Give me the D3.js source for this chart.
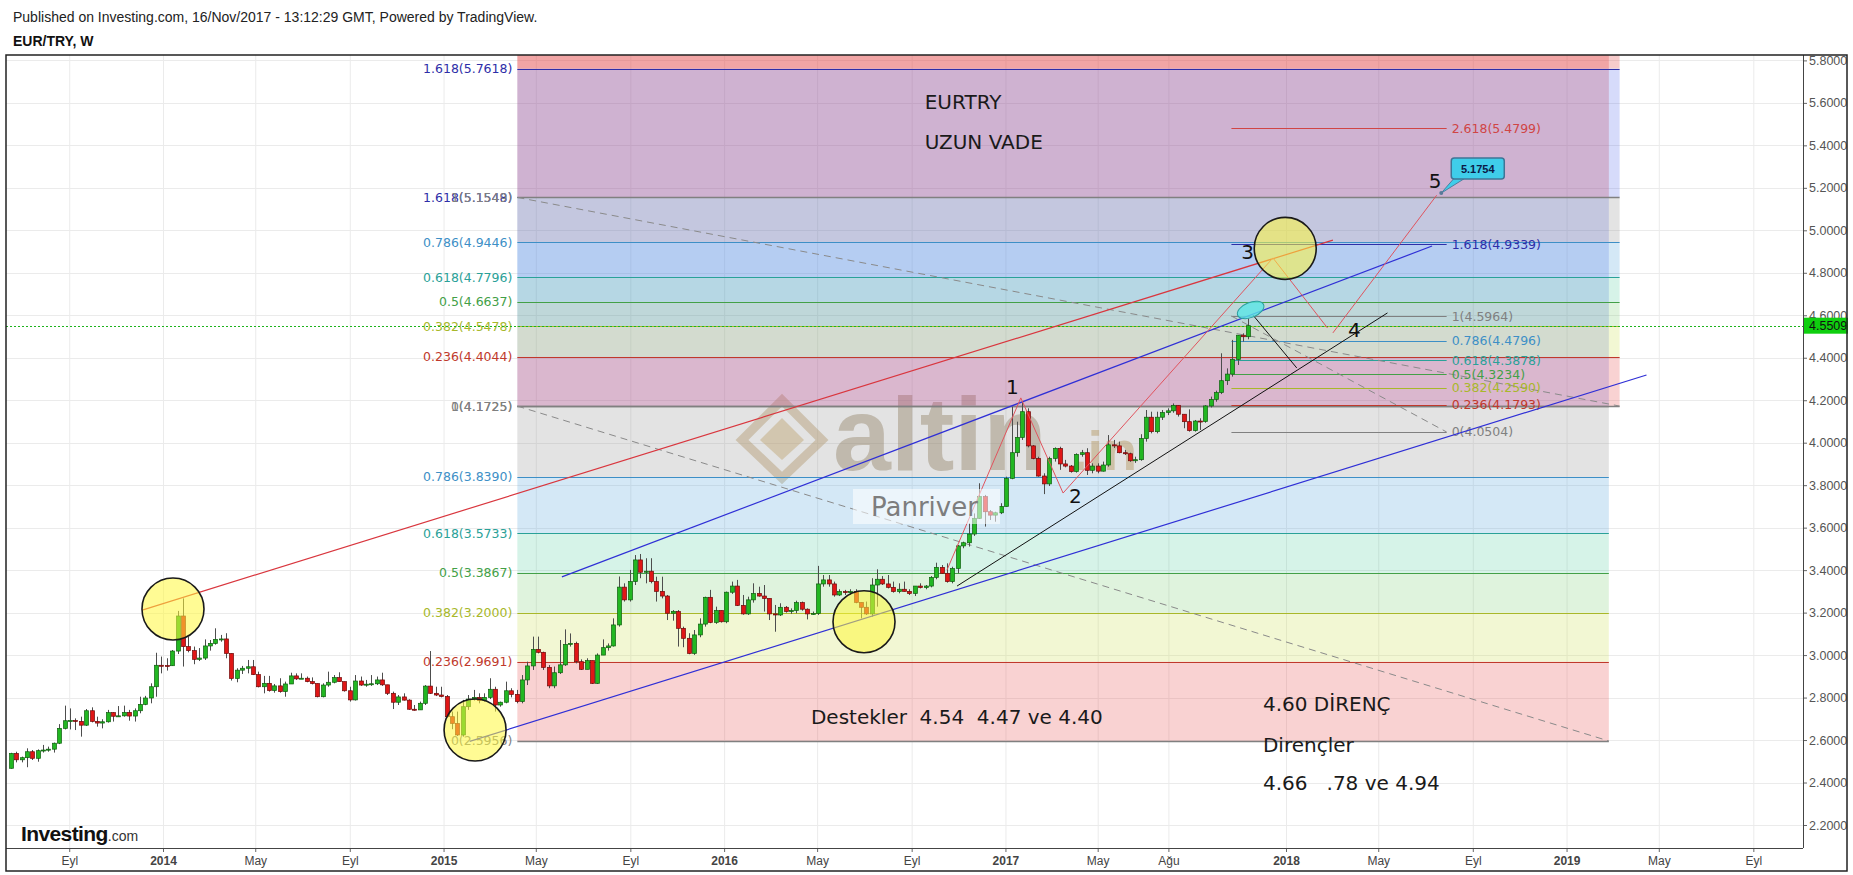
<!DOCTYPE html>
<html><head><meta charset="utf-8">
<script src="https://cdn.jsdelivr.net/npm/d3@7"></script>
<style>body{margin:0;background:#fff;}svg{display:block;}</style>
</head><body>
<svg id="c" width="1853" height="875"></svg>
<script>
// ---------------- DATA ----------------
const lastWeek = "2017-11-13";
const firstOpen = 2.467;
const closes = [2.537,2.507,2.517,2.545,2.514,2.550,2.553,2.557,2.585,2.655,
2.691,2.692,2.688,2.670,2.738,2.688,2.680,2.686,2.729,2.712,
2.714,2.730,2.713,2.738,2.768,2.798,2.851,2.952,2.951,2.950,
3.019,3.184,3.040,3.021,2.980,2.986,3.043,3.055,3.074,3.076,
3.008,2.890,2.929,2.938,2.945,2.908,2.851,2.867,2.833,2.855,
2.828,2.864,2.902,2.888,2.891,2.875,2.866,2.804,2.859,2.872,
2.894,2.875,2.832,2.789,2.878,2.859,2.863,2.865,2.883,2.860,
2.820,2.778,2.803,2.788,2.745,2.742,2.773,2.854,2.820,2.812,
2.805,2.710,2.678,2.624,2.757,2.793,2.801,2.786,2.801,2.839,
2.765,2.778,2.832,2.815,2.781,2.883,2.949,3.027,3.013,2.942,
2.855,2.917,2.954,3.050,3.055,2.969,2.933,2.974,2.867,3.000,
3.035,3.043,3.142,3.320,3.260,3.346,3.448,3.390,3.395,3.346,
3.300,3.278,3.197,3.205,3.126,3.079,3.008,3.095,3.146,3.272,
3.154,3.210,3.157,3.296,3.325,3.234,3.194,3.260,3.290,3.278,
3.267,3.194,3.189,3.225,3.205,3.210,3.247,3.216,3.194,3.196,
3.335,3.354,3.335,3.283,3.299,3.294,3.299,3.248,3.225,3.194,
3.330,3.357,3.335,3.319,3.299,3.310,3.300,3.290,3.325,3.318,
3.325,3.366,3.413,3.385,3.346,3.408,3.514,3.529,3.570,3.644,
3.746,3.675,3.659,3.670,3.700,3.832,3.953,4.025,4.146,3.985,
3.926,3.843,3.806,3.926,3.973,3.900,3.890,3.864,3.945,3.953,
3.870,3.890,3.866,3.895,3.990,3.985,3.953,3.948,3.915,3.920,
4.020,4.120,4.052,4.120,4.142,4.150,4.176,4.134,4.099,4.057,
4.102,4.100,4.173,4.204,4.236,4.292,4.323,4.392,4.506,4.499,
4.551];
const highs = [2.540,2.545,2.522,2.561,2.553,2.556,2.577,2.569,2.588,2.675,
2.762,2.749,2.702,2.710,2.746,2.754,2.710,2.698,2.742,2.731,
2.760,2.762,2.742,2.749,2.804,2.808,2.867,3.011,2.993,2.985,
3.024,3.208,3.267,3.087,3.040,3.033,3.074,3.071,3.126,3.095,
3.103,3.008,2.938,2.949,2.977,2.977,2.922,2.902,2.902,2.864,
2.891,2.875,2.917,2.914,2.914,2.899,2.895,2.864,2.867,2.922,
2.906,2.919,2.870,2.851,2.906,2.899,2.883,2.906,2.899,2.917,
2.859,2.828,2.812,2.820,2.792,2.765,2.781,2.859,3.019,2.851,
2.851,2.812,2.734,2.734,2.789,2.812,2.836,2.820,2.820,2.891,
2.851,2.781,2.875,2.844,2.836,2.906,2.969,3.087,3.087,3.016,
2.953,2.946,3.071,3.121,3.102,3.063,2.980,2.985,2.961,3.008,
3.074,3.055,3.173,3.370,3.338,3.401,3.471,3.476,3.456,3.456,
3.369,3.369,3.283,3.212,3.212,3.134,3.103,3.118,3.173,3.275,
3.307,3.228,3.205,3.299,3.346,3.354,3.283,3.275,3.338,3.322,
3.330,3.267,3.236,3.244,3.231,3.220,3.256,3.252,3.220,3.205,
3.420,3.377,3.377,3.346,3.310,3.307,3.310,3.310,3.244,3.252,
3.362,3.404,3.372,3.377,3.346,3.338,3.346,3.310,3.325,3.338,
3.330,3.372,3.435,3.424,3.432,3.416,3.518,3.534,3.620,3.667,
3.809,3.754,3.683,3.675,3.715,3.840,4.170,4.099,4.193,4.162,
3.989,3.934,3.856,3.934,3.978,3.981,3.919,3.895,3.950,3.966,
3.974,3.903,3.903,3.911,4.036,4.013,4.005,3.966,3.953,3.934,
4.040,4.154,4.146,4.146,4.154,4.162,4.185,4.177,4.126,4.157,
4.107,4.115,4.177,4.217,4.245,4.421,4.350,4.484,4.507,4.515,
4.586];
const lows = [2.465,2.495,2.495,2.472,2.506,2.498,2.541,2.545,2.541,2.581,
2.650,2.650,2.647,2.616,2.666,2.683,2.663,2.655,2.682,2.687,
2.710,2.710,2.691,2.687,2.726,2.764,2.773,2.804,2.914,2.927,
2.949,3.005,2.946,3.013,2.957,2.972,2.977,3.021,3.049,3.063,
2.985,2.880,2.872,2.911,2.914,2.906,2.848,2.820,2.828,2.823,
2.823,2.804,2.864,2.883,2.889,2.872,2.862,2.801,2.801,2.851,
2.867,2.875,2.828,2.781,2.786,2.855,2.851,2.855,2.859,2.855,
2.812,2.746,2.765,2.786,2.742,2.738,2.749,2.765,2.817,2.807,
2.801,2.707,2.651,2.619,2.616,2.742,2.786,2.773,2.781,2.793,
2.734,2.757,2.773,2.801,2.773,2.773,2.859,2.930,3.008,2.930,
2.844,2.844,2.911,2.949,3.040,2.961,2.930,2.938,2.864,2.864,
3.000,3.021,3.040,3.134,3.252,3.252,3.330,3.362,3.338,3.338,
3.252,3.267,3.165,3.162,3.040,3.037,3.004,3.001,3.084,3.134,
3.150,3.147,3.153,3.150,3.288,3.231,3.190,3.189,3.247,3.275,
3.205,3.165,3.110,3.184,3.200,3.194,3.197,3.209,3.168,3.189,
3.189,3.322,3.322,3.275,3.278,3.283,3.283,3.244,3.173,3.189,
3.181,3.228,3.330,3.314,3.294,3.291,3.299,3.283,3.278,3.314,
3.310,3.319,3.357,3.382,3.341,3.338,3.385,3.503,3.511,3.561,
3.641,3.605,3.636,3.628,3.664,3.699,3.828,3.934,4.013,3.978,
3.922,3.840,3.758,3.796,3.911,3.872,3.884,3.859,3.859,3.934,
3.848,3.856,3.856,3.864,3.887,3.975,3.950,3.942,3.910,3.905,
3.915,4.005,4.044,4.044,4.107,4.130,4.141,4.123,4.068,4.052,
4.052,4.060,4.094,4.166,4.193,4.229,4.272,4.311,4.366,4.476,
4.487];
const lastPrice = 4.5509;

const yTicks = [2.2,2.4,2.6,2.8,3.0,3.2,3.4,3.6,3.8,4.0,4.2,4.4,4.6,4.8,5.0,5.2,5.4,5.6,5.8];
const xTickDates = ["2013-09-01","2014-01-01","2014-05-01","2014-09-01","2015-01-01","2015-05-01","2015-09-01","2016-01-01","2016-05-01","2016-09-01","2017-01-01","2017-05-01","2017-08-01","2018-01-01","2018-05-01","2018-09-01","2019-01-01","2019-05-01","2019-09-01"];
const xTickLabels = ["Eyl","2014","May","Eyl","2015","May","Eyl","2016","May","Eyl","2017","May","Ağu","2018","May","Eyl","2019","May","Eyl"];

const fibLevels = [0,0.236,0.382,0.5,0.618,0.786,1,1.618,2.618];
const fibAValues = [2.5956,2.9691,3.2000,3.3867,3.5733,3.8390,4.1725,5.1548,6.7366];
const fibARange = ["2015-04-07","2019-02-25"];
const fibBValues = [4.1725,4.4044,4.5478,4.6637,4.7796,4.9446,5.1549,5.7618,6.7441];
const fibBRange = ["2015-04-07","2019-03-11"];
const fibCValues = [4.0504,4.1793,4.2590,4.3234,4.3878,4.4796,4.5964,4.9339,5.4799];
const fibCRange = ["2017-10-22","2018-07-29"];

const trendLines = [
  {a:["2013-12-06",3.213], b:["2018-03-03",4.954], kind:"red"},
  {a:["2015-06-04",3.368], b:["2018-07-10",4.926], kind:"blue"},
  {a:["2015-02-04",2.594], b:["2019-04-15",4.319], kind:"blue"},
  {a:["2016-10-30",3.325], b:["2018-05-13",4.611], kind:"black"},
  {a:["2017-11-19",4.601], b:["2018-01-15",4.352], kind:"black"}
];
const wave1 = [["2016-10-17",3.401],["2017-01-21",4.211],["2017-03-17",3.763],["2017-12-15",4.870],["2018-02-24",4.540]];
const wave2 = [["2018-03-03",4.517],["2018-07-16",5.165]];
const circleCenters = [["2014-01-14",3.217],["2015-02-11",2.647],["2016-07-01",3.157],["2017-12-31",4.915]];
const ellipseCenter = ["2017-11-16",4.625];
const waveLabels = [["1","2017-01-10",4.264],["2","2017-04-02",3.749],["3","2017-11-12",4.899],["4","2018-03-31",4.530],["5","2018-07-14",5.234]];
const notes = [
  ["EURTRY","2016-09-18",5.606],
  ["UZUN VADE","2016-09-18",5.417],
  ["Destekler  4.54  4.47 ve 4.40","2016-04-23",2.709],
  ["4.60 DİRENÇ","2017-12-02",2.770],
  ["Dirençler","2017-12-02",2.579],
  ["4.66   .78 ve 4.94","2017-12-02",2.396]
];
const callout = {date:"2018-07-22", price:5.1754, text:"5.1754"};

// ---------------- LAYOUT ----------------
const W=1853,H=875, PL=6, PR=1803, PT=55, PB=848;
const parse = d3.utcParse("%Y-%m-%d");
const x = d3.scaleUtc().domain([parse("2014-01-01"), parse("2018-01-01")]).range([163,1286]);
const y = d3.scaleLinear().domain([2.2,5.8]).range([825,60.4]);
const X = s => x(parse(s));

const levelColor = {0:"#808080",0.236:"#c0392b",0.382:"#a8b82a",0.5:"#43a047",0.618:"#2aa198",0.786:"#3d8fc6",1:"#808080",1.618:"#2e2ea8",2.618:"#d04545"};
const bandColor = {0:"rgba(232,80,80,0.26)",0.236:"rgba(200,222,70,0.24)",0.382:"rgba(110,200,100,0.22)",0.5:"rgba(70,200,150,0.22)",0.618:"rgba(90,165,220,0.26)",0.786:"rgba(140,140,140,0.24)",1:"rgba(70,90,230,0.22)",1.618:"rgba(225,70,70,0.28)"};

const svg = d3.select("#c");
svg.append("defs").append("clipPath").attr("id","plot").append("rect")
  .attr("x",PL).attr("y",PT).attr("width",PR-PL).attr("height",PB-PT);
svg.append("rect").attr("width",W).attr("height",H).attr("fill","#fff");

// header
svg.append("text").attr("x",13).attr("y",22).attr("font-family","Liberation Sans, Arial").attr("font-size",14).attr("fill","#222")
  .text("Published on Investing.com, 16/Nov/2017 - 13:12:29 GMT, Powered by TradingView.");
svg.append("text").attr("x",13).attr("y",46).attr("font-family","Liberation Sans, Arial").attr("font-weight","bold").attr("font-size",14).attr("fill","#111")
  .text("EUR/TRY, W");

const g = svg.append("g").attr("clip-path","url(#plot)");

// grid
g.selectAll(".vg").data(xTickDates).join("line").attr("x1",d=>X(d)+0.5).attr("x2",d=>X(d)+0.5)
  .attr("y1",PT).attr("y2",PB).attr("stroke","#ebebeb");
g.selectAll(".hg").data(yTicks).join("line").attr("y1",d=>Math.round(y(d))+0.5).attr("y2",d=>Math.round(y(d))+0.5)
  .attr("x1",PL).attr("x2",PR).attr("stroke","#ebebeb");

// watermark (altin.in)
const wm = g.append("g").attr("opacity",0.45);
wm.append("path").attr("d","M742,440 L782,400 L822,440 L782,478 Z").attr("fill","none").attr("stroke","#c0a06a").attr("stroke-width",9);
wm.append("path").attr("d","M760,440 L782,418 L804,440 L782,460 Z").attr("fill","#d0ad6a");
wm.append("text").attr("x",833).attr("y",470).attr("font-family","Liberation Sans, Arial").attr("font-weight","bold").attr("font-size",104).attr("fill","#9a8664").text("altin");
wm.append("text").attr("x",1072).attr("y",470).attr("font-family","Liberation Sans, Arial").attr("font-weight","bold").attr("font-size",56).attr("fill","#c09a55").text(".in");

// fib drawing
function fibBands(vals, range){
  const x0=X(range[0]), x1=X(range[1]);
  for(let k=0;k<fibLevels.length-1;k++){
    const lo=vals[k], hi=vals[k+1];
    g.append("rect").attr("x",x0).attr("width",x1-x0).attr("y",y(hi)).attr("height",y(lo)-y(hi))
      .attr("fill",bandColor[fibLevels[k]]);
  }
}
function fibLines(vals, range, w){
  const x0=X(range[0]), x1=X(range[1]);
  fibLevels.forEach((lv,k)=>{
    g.append("line").attr("x1",x0).attr("x2",x1).attr("y1",Math.round(y(vals[k]))+0.5).attr("y2",Math.round(y(vals[k]))+0.5)
      .attr("stroke",levelColor[lv]).attr("stroke-width",(lv===0||lv===1)?w:1);
  });
}
function fibLabels(vals, range, side){
  fibLevels.forEach((lv,k)=>{
    if(vals[k]>5.8) return;
    const t = g.append("text").attr("y",y(vals[k])).attr("dominant-baseline","central")
      .attr("font-family","DejaVu Sans, Verdana").attr("font-size",12.5).attr("fill",levelColor[lv])
      .text(lv+"("+vals[k].toFixed(4)+")");
    if(side==="left") t.attr("x",X(range[0])-5).attr("text-anchor","end");
    else t.attr("x",X(range[1])+5).attr("text-anchor","start");
  });
}
fibBands(fibAValues, fibARange);
fibBands(fibBValues, fibBRange);
fibLines(fibAValues, fibARange, 1.5);
fibLines(fibBValues, fibBRange, 1.5);
fibLines(fibCValues, fibCRange, 1);
// fib trend (dashed)
const dashed = [[fibARange[0],fibAValues[6],fibARange[1],fibAValues[0]],[fibBRange[0],fibBValues[6],fibBRange[1],fibBValues[0]],[fibCRange[0],fibCValues[6],fibCRange[1],fibCValues[0]]];
g.selectAll(".dl").data(dashed).join("line").attr("x1",d=>X(d[0])).attr("y1",d=>y(d[1])).attr("x2",d=>X(d[2])).attr("y2",d=>y(d[3]))
  .attr("stroke","#8a8a8a").attr("stroke-dasharray","7,5").attr("stroke-width",1);
fibLabels(fibAValues, fibARange, "left");
fibLabels(fibBValues, fibBRange, "left");
fibLabels(fibCValues, fibCRange, "right");

// current price dotted line
g.append("line").attr("x1",PL).attr("x2",PR).attr("y1",Math.round(y(lastPrice))+0.5).attr("y2",Math.round(y(lastPrice))+0.5)
  .attr("stroke","#1db31d").attr("stroke-dasharray","2,2");

// candles
const N = closes.length;
const last = parse(lastWeek);
const candles = closes.map((c,i)=>{
  const o = i===0?firstOpen:closes[i-1];
  return {d:d3.utcDay.offset(last,-7*(N-1-i)), o, c, h:Math.max(highs[i],o,c), l:Math.min(lows[i],o,c)};
});
const cg = g.append("g");
cg.selectAll(".wk").data(candles).join("line")
  .attr("x1",d=>Math.round(x(d.d))+0.5).attr("x2",d=>Math.round(x(d.d))+0.5)
  .attr("y1",d=>y(d.h)).attr("y2",d=>y(d.l)).attr("stroke","#4d4d4d").attr("stroke-width",1);
cg.selectAll(".bd").data(candles).join("rect")
  .attr("x",d=>Math.round(x(d.d))-1.5).attr("width",4)
  .attr("y",d=>y(Math.max(d.o,d.c))).attr("height",d=>Math.max(1,Math.abs(y(d.o)-y(d.c))))
  .attr("fill",d=>d.c>=d.o?"#22b722":"#e01616")
  .attr("stroke",d=>d.c>=d.o?"#0d5e0d":"#6e0909").attr("stroke-width",0.7);

// trend lines
const tlColor = {red:"#d9363e", blue:"#2f2fd6", black:"#111"};
g.selectAll(".tl").data(trendLines).join("line")
  .attr("x1",d=>X(d.a[0])).attr("y1",d=>y(d.a[1])).attr("x2",d=>X(d.b[0])).attr("y2",d=>y(d.b[1]))
  .attr("stroke",d=>tlColor[d.kind]).attr("stroke-width",d=>d.kind==="black"?1:1.2);
const lineGen = d3.line().x(d=>X(d[0])).y(d=>y(d[1]));
g.append("path").attr("d",lineGen(wave1)).attr("fill","none").attr("stroke","#e0545e").attr("stroke-width",1);
g.append("path").attr("d",lineGen(wave2)).attr("fill","none").attr("stroke","#e0545e").attr("stroke-width",1);

// Panriver box
g.append("rect").attr("x",853).attr("y",489).attr("width",147).attr("height",35).attr("fill","#ffffff").attr("opacity",0.55);
g.append("text").attr("x",871).attr("y",516).attr("font-family","DejaVu Sans, Verdana").attr("font-size",26).attr("fill","#7d7d7d").text("Panriver");

// circles
g.selectAll(".yc").data(circleCenters).join("circle")
  .attr("cx",d=>X(d[0])).attr("cy",d=>y(d[1])).attr("r",31)
  .attr("fill","rgba(255,248,60,0.55)").attr("stroke","#1a1a1a").attr("stroke-width",1.6);
g.append("ellipse").attr("cx",X(ellipseCenter[0])).attr("cy",y(ellipseCenter[1])).attr("rx",14).attr("ry",7.5)
  .attr("transform",`rotate(-22 ${X(ellipseCenter[0])} ${y(ellipseCenter[1])})`)
  .attr("fill","rgba(90,230,230,0.8)").attr("stroke","#2a9d9d").attr("stroke-width",1);

// callout
const ax=X(callout.date), ay=y(callout.price);
g.append("path").attr("d",`M${ax+13},${ay-15} L${ax+24},${ay-15} L${ax},${ay} Z`).attr("fill","#3fcdea").attr("stroke","#4d7fa0").attr("stroke-width",1);
g.append("rect").attr("x",ax+10).attr("y",ay-35).attr("width",53).attr("height",21).attr("rx",3)
  .attr("fill","#3fcdea").attr("stroke","#3f7596").attr("stroke-width",1.5);
g.append("circle").attr("cx",ax).attr("cy",ay).attr("r",2).attr("fill","#5a7a99");
g.append("text").attr("x",ax+36.5).attr("y",ay-24.5).attr("text-anchor","middle").attr("dominant-baseline","central")
  .attr("font-family","Liberation Sans, Arial").attr("font-weight","bold").attr("font-size",11).attr("fill","#0b1a48").text(callout.text);

// wave labels
g.selectAll(".wl").data(waveLabels).join("text")
  .attr("x",d=>X(d[1])).attr("y",d=>y(d[2])).attr("text-anchor","middle").attr("dominant-baseline","central")
  .attr("font-family","DejaVu Sans, Verdana").attr("font-size",20).attr("fill","#111").text(d=>d[0]);
// notes
g.selectAll(".nt").data(notes).join("text")
  .attr("x",d=>X(d[1])).attr("y",d=>y(d[2])).attr("dominant-baseline","central").style("white-space","pre")
  .attr("font-family","DejaVu Sans, Verdana").attr("font-size",20).attr("fill","#1a1a1a").text(d=>d[0]);

// Investing.com logo
const lg = svg.append("text").attr("x",21).attr("y",841).attr("font-family","Liberation Sans, Arial");
lg.append("tspan").attr("font-weight","bold").attr("font-size",21).attr("letter-spacing",-0.6).attr("fill","#111").text("Investing");
lg.append("tspan").attr("font-size",14).attr("fill","#333").text(".com");

// axes
const ya = svg.append("g").attr("transform",`translate(${PR},0)`)
  .call(d3.axisRight(y).tickValues(yTicks).tickFormat(d3.format(".4f")).tickSize(4));
ya.select(".domain").remove();
ya.selectAll("line").attr("stroke","#666");
ya.selectAll("text").attr("font-family","Liberation Sans, Arial").attr("font-size",12.5).attr("fill","#555").attr("x",6);
svg.append("line").attr("x1",PR+0.5).attr("x2",PR+0.5).attr("y1",PT).attr("y2",PB).attr("stroke","#444");

const xa = svg.append("g").attr("transform",`translate(0,${PB})`)
  .call(d3.axisBottom(x).tickValues(xTickDates.map(parse)).tickFormat((d,i)=>xTickLabels[i]).tickSize(4));
xa.select(".domain").remove();
xa.selectAll("line").attr("stroke","#666");
xa.selectAll("text").attr("font-family","Liberation Sans Narrow, Liberation Sans, Arial").attr("font-size",12).attr("fill","#444")
  .attr("font-weight",(d,i)=>/^\d+$/.test(xTickLabels[i])?"bold":"normal").attr("y",8);
svg.append("line").attr("x1",PL).attr("x2",PR).attr("y1",PB+0.5).attr("y2",PB+0.5).attr("stroke","#444");

// last price label
svg.append("rect").attr("x",PR+1).attr("y",y(lastPrice)-8).attr("width",44).attr("height",16).attr("fill","#0fcf0f");
svg.append("text").attr("x",PR+6).attr("y",y(lastPrice)).attr("dominant-baseline","central")
  .attr("font-family","Liberation Sans, Arial").attr("font-size",12.5).attr("fill","#111").text(lastPrice.toFixed(4));

// frame
svg.append("rect").attr("x",6).attr("y",55).attr("width",1841).attr("height",816).attr("fill","none").attr("stroke","#222").attr("stroke-width",1.5);
</script></body></html>
